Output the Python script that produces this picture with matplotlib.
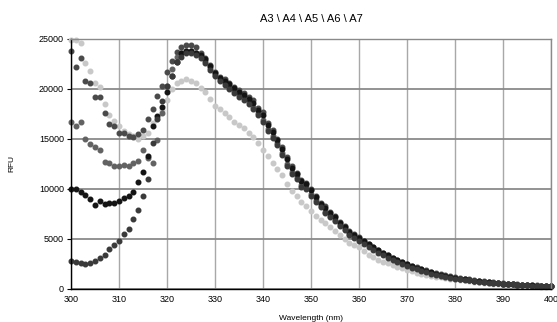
import numpy as np
import matplotlib
matplotlib.use("Agg")
from matplotlib import pyplot as plt

# wavelength axis, 1 nm steps
wavelength = list(range(300, 401))

a3 = [24900, 24900, 24600, 22600, 21800, 20600, 20200, 18500, 17400, 16800,
      16300, 15800, 15500, 15300, 15000, 15300, 15600, 16600, 17000, 17900,
      18900, 20000, 20600, 20800, 21000, 20800, 20600, 20100, 19700, 19000,
      18300, 18000, 17600, 17200, 16700, 16400, 16100, 15600, 15200, 14600,
      13900, 13300, 12600, 12000, 11400, 10500, 9800, 9300, 8700, 8300,
      7800, 7300, 6900, 6600, 6200, 5800, 5400, 5000, 4600, 4400,
      4200, 3800, 3400, 3200, 2900, 2700, 2600, 2400, 2200, 2100,
      1900, 1800, 1650, 1550, 1450, 1350, 1250, 1200, 1100, 1050,
      1000, 950, 900, 800, 750, 700, 650, 600, 550, 500,
      450, 420, 400, 370, 340, 310, 290, 270, 250, 230, 200]

a4 = [23800, 22200, 23100, 20800, 20600, 19200, 19200, 17600, 16500, 16300,
      15600, 15600, 15300, 15200, 15500, 15900, 17000, 18000, 19300, 20300,
      21700, 22800, 23700, 24200, 24400, 24400, 24200, 23600, 23100, 22400,
      21700, 21200, 21000, 20600, 20200, 19900, 19600, 19200, 18900, 18100,
      17700, 16600, 15900, 15000, 14200, 13200, 12300, 11600, 10900, 10600,
      10000, 9300, 8600, 8300, 7700, 7300, 6700, 6300, 5800, 5500,
      5200, 4850, 4550, 4250, 3950, 3650, 3450, 3150, 2950, 2750,
      2550, 2350, 2200, 2050, 1900, 1750, 1600, 1500, 1400, 1300,
      1200, 1100, 1050, 970, 900, 840, 780, 720, 670, 630,
      590, 550, 510, 480, 450, 420, 390, 360, 340, 320, 300]

a5 = [16700, 16300, 16700, 15000, 14500, 14200, 13900, 12700, 12600, 12300,
      12300, 12400, 12300, 12600, 12800, 13900, 13100, 12600, 14900, 17600,
      20300, 22000, 23200, 23600, 23800, 23800, 23600, 23300, 22800, 22100,
      21400, 20900, 20600, 20200, 19800, 19400, 19100, 18700, 18200, 17600,
      16900, 16000, 15300, 14600, 13600, 12500, 11700, 11200, 10400, 10200,
      9500, 8900, 8300, 7700, 7300, 6900, 6400, 6000, 5500, 5200,
      4900, 4700, 4400, 4100, 3800, 3550, 3300, 3050, 2850, 2650,
      2450, 2250, 2100, 1950, 1800, 1650, 1500, 1400, 1300, 1200,
      1100, 1030, 980, 900, 830, 770, 710, 660, 610, 570,
      530, 500, 460, 430, 400, 380, 350, 330, 310, 290, 270]

a6 = [10000, 10000, 9700, 9400, 9000, 8400, 8800, 8500, 8600, 8600,
      8800, 9100, 9300, 9700, 10700, 11700, 13300, 16300, 17300, 18200,
      19700, 21300, 22700, 23600, 23800, 23800, 23600, 23400, 23000, 22300,
      21600, 21100, 20800, 20500, 20100, 19700, 19400, 19000, 18600, 17900,
      17400, 16400, 15700, 14900, 14000, 13000, 12100, 11500, 10800, 10500,
      9900, 9200, 8500, 8100, 7600, 7200, 6600, 6200, 5700, 5400,
      5100, 4800, 4500, 4200, 3900, 3600, 3400, 3100, 2900, 2700,
      2500, 2300, 2150, 2000, 1850, 1700, 1550, 1450, 1350, 1250,
      1150, 1050, 1000, 920, 850, 790, 730, 680, 630, 590,
      550, 510, 480, 450, 420, 390, 370, 340, 320, 300, 280]

a7 = [2800, 2700, 2600, 2500, 2600, 2800, 3100, 3400, 4000, 4400,
      4800, 5500, 6000, 7000, 7900, 9300, 11000, 14600, 17000, 18800,
      20300, 21300, 22700, 23200, 23600, 23600, 23400, 23100, 22600, 21900,
      21300, 20800, 20400, 20000, 19600, 19200, 18900, 18500, 18000, 17400,
      16700, 15800, 15100, 14400, 13400, 12300, 11500, 11000, 10200, 10000,
      9300, 8700, 8200, 7600, 7200, 6800, 6300, 5900, 5400, 5100,
      4800, 4500, 4200, 3900, 3600, 3400, 3150, 2900, 2700, 2500,
      2300, 2150, 2000, 1850, 1700, 1550, 1450, 1350, 1250, 1150,
      1050, 1000, 930, 860, 800, 740, 690, 640, 600, 560,
      520, 490, 460, 430, 400, 370, 350, 330, 300, 280, 260]

series = [a3, a4, a5, a6, a7]
colors = ["#c8c8c8", "#4a4a4a", "#626262", "#141414", "#3a3a3a"]

plt.rcParams["font.family"] = ["Liberation Sans", "DejaVu Sans"]

fig = plt.figure(figsize=(5.57, 3.22), dpi=100)
ax = fig.add_axes([71 / 557, 1 - 289 / 322, 480 / 557, 250 / 322])

for ys, col in zip(series, colors):
    ax.plot(wavelength, ys, linestyle="none", marker="o", markersize=3.3,
            markerfacecolor=col, markeredgecolor=col, clip_on=False)

ax.set_xlim(300, 400)
ax.set_ylim(0, 25000)
ax.set_xticks(range(300, 401, 10))
ax.set_yticks(range(0, 25001, 5000))
ax.set_axisbelow(True)
ax.yaxis.grid(color="#8a8a8a", linewidth=1.3)
ax.xaxis.grid(color="#a8a8a8", linewidth=1.0)

for side in ("top", "right"):
    ax.spines[side].set_color("#8a8a8a")
    ax.spines[side].set_linewidth(1.0)
for side in ("left", "bottom"):
    ax.spines[side].set_color("black")
    ax.spines[side].set_linewidth(1.0)

ax.tick_params(axis="both", labelsize=6.5, length=3, width=0.8, pad=2)
ax.tick_params(axis="x", length=0, pad=4)

ax.set_title("A3 \\ A4 \\ A5 \\ A6 \\ A7", fontsize=8, pad=12)
ax.set_xlabel("Wavelength (nm)", fontsize=6, labelpad=8)
ax.set_ylabel("RFU", fontsize=6, labelpad=17)

fig.savefig("out.png", dpi=100)
